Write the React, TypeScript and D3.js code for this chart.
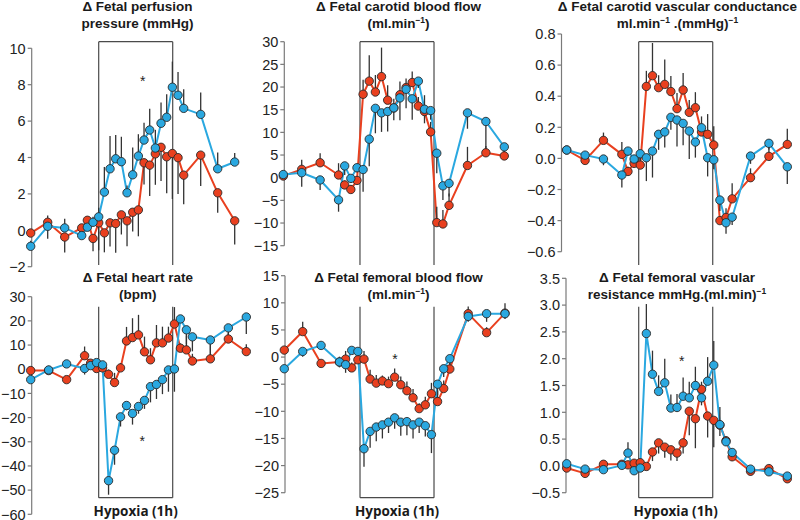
import React from "react";
import * as d3 from "d3";

// time (min relative to hypoxia onset)
const TIME = [-60, -45, -30, -15, -10, -5, 0, 5, 10, 15, 20, 25, 30, 35, 40, 45, 50, 55, 60, 65, 70, 75, 90, 105, 120];

// Δ Fetal perfusion pressure
const PERF_BLUE = [-0.88, 0.22, 0.13, -0.29, 0.17, 0.44, 0.74, 2.1, 3.38, 3.93, 3.77, 2.06, 3.05, 4.08, 4.96, 5.51, 4.52, 5.88, 6.21, 7.86, 7.42, 6.7, 6.37, 3.38, 3.75];
const PERF_BLUE_ERR = [0.3, 0.6, 0.5, 0.4, 0.3, 0.3, 0.5, 1.38, 1.8, 1.3, 1.37, 0.4, 1.5, 1.2, 0.95, 1.17, 1.0, 1.14, 1.27, 1.41, 1.28, 1.05, 1.2, 0.9, 0.5];
const PERF_RED = [-0.15, 0.44, -0.37, 0.13, 0.55, -0.45, 0.41, -0.14, 0.41, 0.37, 0.85, 0.52, 0.99, 1.12, 3.71, 3.58, 4.2, 4.56, 4.04, 4.22, 3.99, 3.03, 4.13, 2.06, 0.52];
const PERF_RED_ERR = [0.2, 0.9, 0.85, 0.6, 0.5, 0.7, 1.5, 1.07, 1.3, 1.6, 1.08, 1.4, 1.05, 1.45, 1.2, 1.7, 1.7, 1.85, 2.0, 2.5, 2.0, 1.6, 1.7, 1.1, 1.3];

// Δ Fetal carotid blood flow
const CBF_BLUE = [0.7, 1.1, -0.5, -4.9, 2.6, -0.15, 2.2, 1.8, 8.5, 15.3, 14.3, 14.6, 15.4, 17.6, 19.5, 17.4, 21.3, 15.1, 14.8, 5.4, -1.8, -1.25, 14.3, 12.4, 6.8];
const CBF_BLUE_ERR = [0.5, 3.1, 2.2, 2.6, 2, 1, 1, 4.9, 6, 5.5, 4.2, 4.4, 2.7, 4.9, 4.2, 4.6, 1.5, 3.1, 2, 4.4, 3.1, 2.9, 3.5, 6.3, 2.2];
const CBF_RED = [0.37, 1.84, 3.3, 0.6, -1.6, -2.6, -0.6, 18.4, 21.3, 18.9, 22.3, 17.1, 15.4, 18.3, 19.9, 21.0, 15.8, 14.6, 10.1, -9.9, -10.2, -6.1, 2.7, 5.5, 4.8];
const CBF_RED_ERR = [0.5, 2.1, 2.1, 2.6, 1, 1, 1, 3.2, 5.7, 3.75, 6.4, 3.3, 2, 2.9, 2, 2.4, 2, 3.6, 2.2, 3.5, 3.1, 2.6, 4.1, 1.5, 2.1];

// Δ Fetal carotid vascular conductance
const CVC_BLUE = [0.054, 0.021, -0.004, -0.107, 0.047, -0.004, 0.03, 0.004, 0.047, 0.155, 0.17, 0.264, 0.247, 0.225, 0.176, 0.105, 0.197, 0.004, -0.009, -0.268, -0.414, -0.378, 0.015, 0.097, -0.054];
const CVC_BLUE_ERR = [0.01, 0.04, 0.04, 0.08, 0.03, 0.02, 0.04, 0.15, 0.17, 0.1, 0.1, 0.08, 0.17, 0.14, 0.18, 0.1, 0.05, 0.12, 0.06, 0.07, 0.07, 0.05, 0.05, 0.04, 0.11];
const CVC_RED = [0.054, -0.013, 0.116, 0.026, -0.084, -0.032, -0.043, 0.463, 0.532, 0.455, 0.476, 0.43, 0.32, 0.44, 0.296, 0.326, 0.17, 0.155, 0.086, -0.4, -0.38, -0.26, -0.124, 0.013, 0.09];
const CVC_RED_ERR = [0.01, 0.05, 0.05, 0.08, 0.03, 0.05, 0.05, 0.1, 0.21, 0.08, 0.16, 0.1, 0.1, 0.11, 0.08, 0.1, 0.1, 0.13, 0.12, 0.03, 0.06, 0.1, 0.06, 0.06, 0.1];

// Δ Fetal heart rate
const HR_BLUE = [-4.3, -0.3, 2.2, 0.3, 1.5, 2.75, 1.8, -46.1, -33.5, -19.7, -15.0, -18.3, -15.4, -12.9, -7.2, -6.3, -4.3, -0.3, 0.1, 20.8, 16.3, 13.4, 12.1, 17.1, 21.6];
const HR_BLUE_ERR = [1, 1.5, 1, 2.5, 1, 1, 1, 5.8, 6, 4, 2, 4.6, 3, 3.5, 6.5, 6, 6, 9, 9.4, 1.5, 6, 6, 6, 5, 7];
const HR_RED = [-0.55, -0.55, -4.3, 5.6, 2.5, 0.3, 0.55, -2.1, -5.5, 0.55, 11.7, 13.1, 14.2, 7.2, 3.9, 10.9, 10.9, 12.9, 18.7, 8.7, 8.0, 3.4, 4.3, 12.5, 7.3];
const HR_RED_ERR = [1, 2, 1, 3.8, 1, 1, 1, 2, 4, 2, 5.8, 8, 8.3, 6.3, 4.8, 7.4, 6.7, 4.7, 7, 2, 6, 3, 6, 2.5, 3];

// Δ Fetal femoral blood flow
const FBF_BLUE = [-2.15, 1.04, 2.15, -0.9, -1.4, 1.23, 1.04, -16.9, -13.7, -12.9, -12.5, -12.0, -11.2, -12.0, -11.9, -12.5, -12.0, -12.65, -14.3, -5.0, -2.15, -0.3, 7.5, 8.0, 8.0];
const FBF_BLUE_ERR = [0.5, 1, 0.5, 1, 1.5, 0.5, 0.5, 3.3, 3, 2.6, 2.5, 2, 2, 2.5, 2.5, 2.5, 2, 2, 3.4, 2, 1.5, 1, 1, 1.5, 1];
const FBF_RED = [1.29, 4.7, -1.17, -0.92, -0.37, -2.0, -0.5, -0.37, -4.05, -4.8, -4.4, -4.9, -3.7, -5.1, -6.2, -7.5, -9.5, -8.8, -6.75, -8.2, -5.8, -2.2, 8.0, 4.5, 8.1];
const FBF_RED_ERR = [0.5, 1.8, 0.5, 1, 1.5, 1, 0.5, 1.5, 1.7, 1.5, 1, 1.3, 1.6, 1.5, 1.7, 1.6, 1, 1.5, 2, 2, 1.5, 1.5, 1.3, 1, 1.8];

// Δ Fetal femoral vascular resistance
const FVR_BLUE = [0.04, -0.06, -0.07, 0.01, 0.24, -0.09, -0.04, 2.47, 1.71, 1.39, 1.55, 1.08, 1.09, 1.3, 1.27, 1.5, 1.27, 1.58, 1.88, 0.77, 0.45, 0.25, -0.06, -0.11, -0.19];
const FVR_BLUE_ERR = [0.03, 0.03, 0.03, 0.05, 0.2, 0.03, 0.05, 0.55, 0.44, 0.3, 0.45, 0.25, 0.25, 0.35, 0.3, 0.35, 0.3, 0.45, 0.45, 0.33, 0.1, 0.05, 0.06, 0.05, 0.05];
const FVR_RED = [-0.04, -0.14, 0.03, 0.03, 0.02, 0.05, 0.06, -0.01, 0.26, 0.43, 0.35, 0.3, 0.24, 0.43, 1.02, 0.88, 1.43, 0.93, 0.85, 0.76, 0.47, 0.17, -0.1, -0.05, -0.24];
const FVR_RED_ERR = [0.03, 0.05, 0.03, 0.03, 0.03, 0.03, 0.03, 0.05, 0.17, 0.2, 0.2, 0.2, 0.15, 0.2, 0.45, 0.55, 0.3, 0.4, 0.5, 0.2, 0.1, 0.08, 0.08, 0.05, 0.06];

// tick values
const TICKS_PERF = [-2, 0, 2, 4, 6, 8, 10];
const TICKS_CBF = [-15, -10, -5, 0, 5, 10, 15, 20, 25, 30];
const TICKS_CVC = [-0.6, -0.4, -0.2, 0, 0.2, 0.4, 0.6, 0.8];
const TICKS_HR = [-60, -50, -40, -30, -20, -10, 0, 10, 20, 30];
const TICKS_FBF = [-25, -20, -15, -10, -5, 0, 5, 10, 15];
const TICKS_FVR = [-0.5, 0, 0.5, 1, 1.5, 2, 2.5, 3, 3.5];

const HYPOXIA_LABEL = "Hypoxia (1h)";

type Seg = { t: string; sup?: boolean };

const BLUE = "#2aa8e0";
const RED = "#e9401f";

// errDir: +1 = error bar drawn upward, -1 = downward
const PANELS = [
  {
    title: [[{ t: "Δ Fetal perfusion" }], [{ t: "pressure (mmHg)" }]] as Seg[][],
    blue: PERF_BLUE, blueErr: PERF_BLUE_ERR, red: PERF_RED, redErr: PERF_RED_ERR, blueDir: 1, redDir: -1,
    ticks: TICKS_PERF, fmt: d3.format("d"), domain: [-2, 10],
    xRange: [30.7, 234.7], axisX: 31.7, yRange: [266.7, 48.3],
    hyp: [0, 65.3], row: 0, titleX: 137.5, star: [38.8, 8.3] as number[] | null,
  },
  {
    title: [[{ t: "Δ Fetal carotid blood flow" }], [{ t: "(ml.min" }, { t: "−1", sup: true }, { t: ")" }]] as Seg[][],
    blue: CBF_BLUE, blueErr: CBF_BLUE_ERR, red: CBF_RED, redErr: CBF_RED_ERR, blueDir: -1, redDir: 1,
    ticks: TICKS_CBF, fmt: d3.format("d"), domain: [-15, 30],
    xRange: [283.3, 504.3], axisX: 284.3, yRange: [245.7, 41.7],
    hyp: [2.45, 62.75], row: 0, titleX: 398.5, star: null,
  },
  {
    title: [[{ t: "Δ Fetal carotid vascular conductance" }], [{ t: "ml.min" }, { t: "−1", sup: true }, { t: " .(mmHg)" }, { t: "−1", sup: true }]] as Seg[][],
    blue: CVC_BLUE, blueErr: CVC_BLUE_ERR, red: CVC_RED, redErr: CVC_RED_ERR, blueDir: -1, redDir: 1,
    ticks: TICKS_CVC, fmt: d3.format(".1f"), domain: [-0.6, 0.8],
    xRange: [566.7, 787.3], axisX: 561.5, yRange: [251.7, 34],
    hyp: [-1.25, 59.15], row: 0, titleX: 677.5, star: null,
  },
  {
    title: [[{ t: "Δ Fetal heart rate" }], [{ t: "(bpm)" }]] as Seg[][],
    blue: HR_BLUE, blueErr: HR_BLUE_ERR, red: HR_RED, redErr: HR_RED_ERR, blueDir: -1, redDir: 1,
    ticks: TICKS_HR, fmt: d3.format("d"), domain: [-60, 30],
    xRange: [30.7, 246.3], axisX: 31.7, yRange: [514.3, 296.7],
    hyp: [-3.25, 58.55], row: 1, titleX: 137.8, star: [33.2, -28.8],
  },
  {
    title: [[{ t: "Δ Fetal femoral blood flow" }], [{ t: "(ml.min" }, { t: "−1", sup: true }, { t: ")" }]] as Seg[][],
    blue: FBF_BLUE, blueErr: FBF_BLUE_ERR, red: FBF_RED, redErr: FBF_RED_ERR, blueDir: -1, redDir: 1,
    ticks: TICKS_FBF, fmt: d3.format("d"), domain: [-25, 15],
    xRange: [284.3, 505], axisX: 285, yRange: [492.7, 275.7],
    hyp: [1.75, 62.1], row: 1, titleX: 398.5, star: [30.3, 0],
  },
  {
    title: [[{ t: "Δ Fetal femoral vascular" }], [{ t: "resistance mmHg.(ml.min)" }, { t: "−1", sup: true }]] as Seg[][],
    blue: FVR_BLUE, blueErr: FVR_BLUE_ERR, red: FVR_RED, redErr: FVR_RED_ERR, blueDir: 1, redDir: -1,
    ticks: TICKS_FVR, fmt: d3.format(".1f"), domain: [-0.5, 3.5],
    xRange: [566.7, 787.3], axisX: 566, yRange: [492.7, 278.3],
    hyp: [-1.25, 59.15], row: 1, titleX: 677, star: [33.9, 1.99],
  },
];

const ROWS = [
  { titleY: [11, 27.5], boxTop: 41.7, boxBottom: 265, topLine: true, bottomLine: false },
  { titleY: [282, 299], boxTop: 306.7, boxBottom: 497.7, topLine: false, bottomLine: true },
];

const TITLE_FONT = "'Liberation Sans', Arial, Helvetica, sans-serif";

function Title({ lines, x, ys }: { lines: Seg[][]; x: number; ys: number[] }) {
  return (
    <g>
      {lines.map((segs, i) => (
        <text key={i} x={x} y={ys[i]} textAnchor="middle" fontFamily={TITLE_FONT} fontWeight="bold" fontSize={13.5} fill="#1a1a1a">
          {segs.map((s, j) =>
            s.sup ? (
              <tspan key={j} fontSize={8.5} dy={-5}>{s.t}</tspan>
            ) : (
              <tspan key={j} dy={j > 0 && segs[j - 1].sup ? 5 : 0}>{s.t}</tspan>
            )
          )}
        </text>
      ))}
    </g>
  );
}

function Panel({ p }: { p: (typeof PANELS)[number] }) {
  const row = ROWS[p.row];
  const x = d3.scaleLinear().domain([TIME[0], TIME[TIME.length - 1]]).range(p.xRange);
  const y = d3.scaleLinear().domain(p.domain).range(p.yRange);
  const line = d3.line<number>().x((_, i) => x(TIME[i])).y((d) => y(d));
  const bx0 = x(p.hyp[0]);
  const bx1 = x(p.hyp[1]);
  const series = [
    { vals: p.red, err: p.redErr, dir: p.redDir, color: RED },
    { vals: p.blue, err: p.blueErr, dir: p.blueDir, color: BLUE },
  ];
  return (
    <g>
      {/* hypoxia box */}
      <g stroke="#4a4a4a" strokeWidth={1.2} fill="none">
        <line x1={bx0} x2={bx0} y1={row.boxTop} y2={row.boxBottom} />
        <line x1={bx1} x2={bx1} y1={row.boxTop} y2={row.boxBottom} />
        {row.topLine && <line x1={bx0} x2={bx1} y1={row.boxTop} y2={row.boxTop} />}
        {row.bottomLine && <line x1={bx0} x2={bx1} y1={row.boxBottom} y2={row.boxBottom} />}
      </g>
      {p.row === 1 && (
        <text x={(bx0 + bx1) / 2} y={516} textAnchor="middle" fontFamily="'Open Sans', sans-serif" fontWeight="bold" fontSize={13.5} fill="#1a1a1a">
          {HYPOXIA_LABEL}
        </text>
      )}
      {/* y axis */}
      <g stroke="#7a7a7a" strokeWidth={1.2}>
        <line x1={p.axisX} x2={p.axisX} y1={y(p.domain[0])} y2={y(p.domain[1])} />
        {p.ticks.map((t) => (
          <line key={t} x1={p.axisX - 4} x2={p.axisX} y1={y(t)} y2={y(t)} />
        ))}
      </g>
      <g fontFamily={TITLE_FONT} fontSize={14.5} fill="#222" textAnchor="end">
        {p.ticks.map((t) => (
          <text key={t} x={p.axisX - 6} y={y(t)} dy="0.36em">
            {p.fmt(t)}
          </text>
        ))}
      </g>
      {/* lines */}
      {series.map((s, k) => (
        <path key={k} d={line(s.vals) || ""} fill="none" stroke={s.color} strokeWidth={2} strokeLinejoin="round" />
      ))}
      {/* error bars (one-sided) */}
      <g stroke="#333" strokeWidth={1.3}>
        {series.map((s, k) =>
          s.vals.map((v, i) => (
            <line key={k + "-" + i} x1={x(TIME[i])} x2={x(TIME[i])} y1={y(v)} y2={y(v + s.dir * s.err[i])} />
          ))
        )}
      </g>
      {/* points */}
      {series.map((s, k) => (
        <g key={k} fill={s.color} stroke="#2a2a2a" strokeWidth={0.9}>
          {s.vals.map((v, i) => (
            <circle key={i} cx={x(TIME[i])} cy={y(v)} r={4.2} />
          ))}
        </g>
      ))}
      {p.star && (
        <text x={x(p.star[0])} y={y(p.star[1]) + 7} textAnchor="middle" fontFamily={TITLE_FONT} fontSize={14} fill="#222">
          *
        </text>
      )}
      <Title lines={p.title} x={p.titleX} ys={row.titleY} />
    </g>
  );
}

export default function App() {
  return (
    <svg width={800} height={520} style={{ position: "absolute", left: 0, top: 0, background: "#fff" }}>
      <rect width={800} height={520} fill="#fff" />
      {PANELS.map((p, i) => (
        <Panel key={i} p={p} />
      ))}
    </svg>
  );
}
